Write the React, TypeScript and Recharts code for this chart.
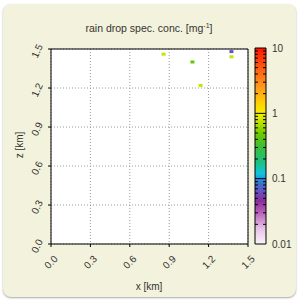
import {
  ScatterChart,
  Scatter,
  XAxis,
  YAxis,
  CartesianGrid,
  ComposedChart,
  ReferenceArea,
  ReferenceLine,
} from 'recharts';

// axis ticks (km)
const xTicks = [0, 0.3, 0.6, 0.9, 1.2, 1.5];
const zTicks = [0, 0.3, 0.6, 0.9, 1.2, 1.5];

// rain drop specific concentration samples
const xs = [0.857, 1.374, 1.374, 1.077, 1.139];
const zs = [1.46, 1.48, 1.44, 1.4, 1.22];
const conc = [0.78, 0.065, 0.78, 0.45, 0.78];

// colour bar
const cbTicks = [0.01, 0.1, 1, 10];
const cbMinor = [
  0.02, 0.03, 0.04, 0.05, 0.06, 0.07, 0.08, 0.09,
  0.2, 0.3, 0.4, 0.5, 0.6, 0.7, 0.8, 0.9,
  2, 3, 4, 5, 6, 7, 8, 9,
];

// colormap stops: position in log10 space from 0.01 (0) to 10 (1)
const cmapPos = [0, 0.08, 0.16, 0.22, 0.27, 0.31, 0.333, 0.36, 0.42, 0.5, 0.56, 0.62, 0.665, 0.72, 0.8, 0.9, 1];
const cmapCol = [
  '#faf3fa', '#e6c2e6', '#b862b8', '#8a2c9c', '#6454c4', '#3a72cc', '#2596e0', '#10c6da',
  '#1cc07c', '#3ebe34', '#6cc800', '#bce000', '#f4f000', '#ffd000', '#ff9a1c', '#ff5a10', '#ff1400',
];

const data = xs.map((x, i) => ({ x, z: zs[i], v: conc[i] }));

const font = '"Liberation Sans", Arial, sans-serif';

function hexToRgb(h: string) {
  const n = parseInt(h.slice(1), 16);
  return [(n >> 16) & 255, (n >> 8) & 255, n & 255];
}

function colorFor(v: number) {
  const t = (Math.log10(v) + 2) / 3;
  for (let i = 1; i < cmapPos.length; i++) {
    if (t <= cmapPos[i]) {
      const f = (t - cmapPos[i - 1]) / (cmapPos[i] - cmapPos[i - 1]);
      const a = hexToRgb(cmapCol[i - 1]);
      const b = hexToRgb(cmapCol[i]);
      const c = a.map((va, k) => Math.round(va + (b[k] - va) * f));
      return `rgb(${c[0]},${c[1]},${c[2]})`;
    }
  }
  return cmapCol[cmapCol.length - 1];
}

const XTick = ({ x, y, payload }: any) => (
  <text
    x={x}
    y={y + 13}
    transform={`rotate(-45 ${x} ${y + 13})`}
    textAnchor="middle"
    dominantBaseline="central"
    fontSize={10}
    fontFamily={font}
    fill="#333"
  >
    {payload.value.toFixed(1)}
  </text>
);

const YTick = ({ x, y, payload }: any) => (
  <text
    x={x - 9}
    y={y + 2}
    transform={`rotate(-65 ${x - 9} ${y + 2})`}
    textAnchor="middle"
    dominantBaseline="central"
    fontSize={10}
    fontFamily={font}
    fill="#333"
  >
    {payload.value.toFixed(1)}
  </text>
);

const NoTick = () => <g />;

const Cell = ({ cx, cy, payload }: any) => (
  <rect x={cx - 2} y={cy - 1.5} width={4} height={3} fill={colorFor(payload.v)} />
);

export default function App() {
  return (
    <div style={{ position: 'absolute', left: 0, top: 0, width: 298, height: 301, background: '#fff', fontFamily: font }}>
      <div
        style={{
          position: 'absolute',
          left: 3,
          top: 4,
          width: 293,
          height: 293,
          borderRadius: 8,
          background: '#f3f2dc',
          boxShadow: '0 1px 2px rgba(0,0,0,0.35)',
        }}
      />
      <div
        style={{
          position: 'absolute',
          left: 0,
          width: 298,
          top: 19,
          textAlign: 'center',
          fontSize: 10.5,
          color: '#333',
          lineHeight: '14px',
        }}
      >
        rain drop spec. conc. [mg<sup style={{ fontSize: 7, verticalAlign: 4 }}>-1</sup>]
      </div>
      <div
        style={{
          position: 'absolute',
          left: 0,
          width: 298,
          top: 280,
          textAlign: 'center',
          fontSize: 10,
          color: '#333',
          lineHeight: '14px',
        }}
      >
        x [km]
      </div>
      <div
        style={{
          position: 'absolute',
          left: -10,
          top: 138,
          width: 60,
          textAlign: 'center',
          fontSize: 10,
          color: '#333',
          lineHeight: '14px',
          transform: 'rotate(-90deg)',
        }}
      >
        z [km]
      </div>

      <div style={{ position: 'absolute', left: 0, top: 0 }}>
        <ScatterChart width={298} height={301} margin={{ top: 39, right: 40, bottom: 27, left: 21 }}>
          <CartesianGrid xAxisId="b" yAxisId="l" stroke="#9a9a9a" strokeDasharray="1 2" fill="#fff" />
          <XAxis
            xAxisId="b"
            dataKey="x"
            type="number"
            domain={[0, 1.5]}
            ticks={xTicks}
            interval={0}
            orientation="bottom"
            height={30}
            tickSize={3}
            stroke="#000"
            tick={<XTick />}
          />
          <XAxis
            xAxisId="t"
            type="number"
            domain={[0, 1.5]}
            ticks={xTicks}
            interval={0}
            orientation="top"
            height={10}
            tickSize={3}
            stroke="#000"
            tick={<NoTick />}
          />
          <YAxis
            yAxisId="l"
            dataKey="z"
            type="number"
            domain={[0, 1.5]}
            ticks={zTicks}
            interval={0}
            width={30}
            tickSize={3}
            stroke="#000"
            tick={<YTick />}
          />
          <YAxis
            yAxisId="r"
            type="number"
            domain={[0, 1.5]}
            ticks={zTicks}
            interval={0}
            orientation="right"
            width={10}
            tickSize={3}
            stroke="#000"
            tick={<NoTick />}
          />
          <Scatter xAxisId="b" yAxisId="l" data={data} shape={<Cell />} isAnimationActive={false} />
        </ScatterChart>
      </div>

      <div style={{ position: 'absolute', left: 250, top: 40 }}>
        <ComposedChart width={48} height={212} data={[{ x: 0 }]} margin={{ top: 8, right: 0, bottom: 8, left: 5 }}>
          <defs>
            <linearGradient id="cbGrad" x1="0" y1="0" x2="0" y2="1">
              {cmapPos.map((p, i) => (
                <stop key={i} offset={`${(1 - p) * 100}%`} stopColor={cmapCol[i]} />
              )).reverse()}
            </linearGradient>
          </defs>
          <XAxis dataKey="x" type="number" domain={[0, 1]} hide />
          <YAxis
            type="number"
            scale="log"
            domain={[0.01, 10]}
            allowDataOverflow
            ticks={cbTicks}
            interval={0}
            orientation="right"
            width={32}
            axisLine={false}
            tickLine={false}
            tickSize={0}
            tickMargin={6}
            tick={{ fontSize: 10, fontFamily: font, fill: '#333' }}
            tickFormatter={(v: number) => String(v)}
          />
          <ReferenceArea y1={0.01} y2={10} fill="url(#cbGrad)" fillOpacity={1} stroke="#000" strokeWidth={1} ifOverflow="visible" />
          {cbMinor.map((v) => (
            <ReferenceLine key={v} y={v} stroke="#000" strokeDasharray="3 5 3" />
          ))}
          <ReferenceLine y={0.1} stroke="#000" />
          <ReferenceLine y={1} stroke="#000" />
        </ComposedChart>
      </div>
    </div>
  );
}
